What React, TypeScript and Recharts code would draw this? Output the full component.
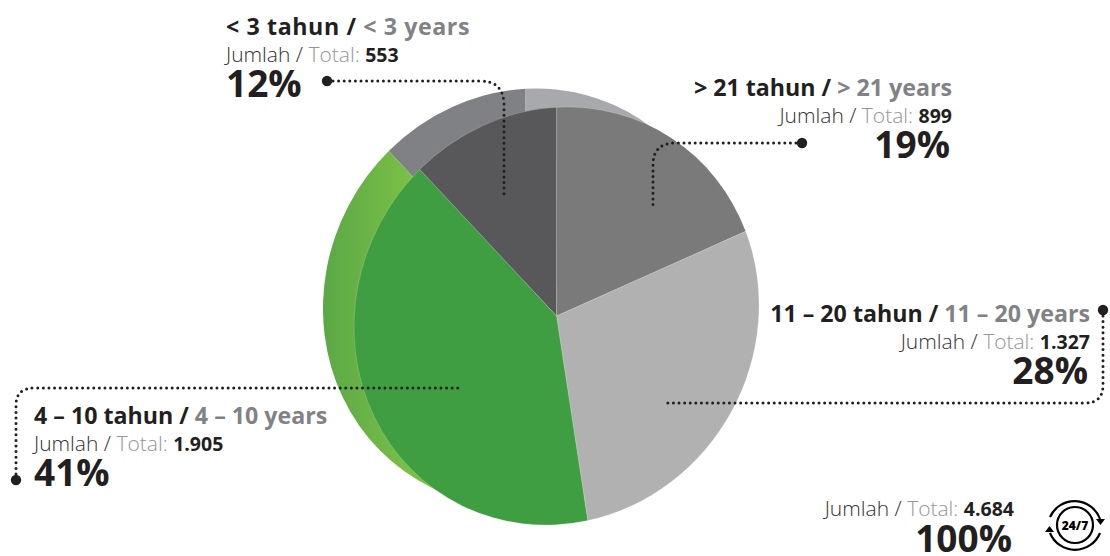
import { PieChart, Pie } from "recharts";

const categories = ["< 3", "> 21", "11 – 20", "4 – 10"];
const totals = [553, 899, 1327, 1905];
const totalLabels = ["553", "899", "1.327", "1.905"];
const percentLabels = ["12%", "19%", "28%", "41%"];
const frontColors = ["#58585a", "#7a7a7a", "#b1b1b1", "#3f9e41"];
const backColors = ["#808184", "#a7a9ac", "#d1d3d4", "url(#backGreen)"];

const grandTotal = "4.684";
const grandPercent = "100%";

const pieData = categories.map((name, i) => ({ name, value: totals[i] }));

const TILT = 60.5;
const MINOR = 199.4 / 212;

// the artwork's pie is a slightly tilted ellipse, not a true circle
function EllipseSector(props: any) {
  const { cx, cy, outerRadius, startAngle, endAngle, fill, stroke } = props;
  const a = outerRadius;
  const b = outerRadius * MINOR;
  const rad = Math.PI / 180;
  const point = (deg: number) => {
    const t = (deg - TILT) * rad;
    const c = TILT * rad;
    return [
      cx + a * Math.cos(t) * Math.cos(c) - b * Math.sin(t) * Math.sin(c),
      cy - (a * Math.cos(t) * Math.sin(c) + b * Math.sin(t) * Math.cos(c)),
    ];
  };
  const [x0, y0] = point(startAngle);
  const [x1, y1] = point(endAngle);
  const large = Math.abs(startAngle - endAngle) > 180 ? 1 : 0;
  const d = `M${cx},${cy} L${x0},${y0} A${a},${b} ${-TILT} ${large} 1 ${x1},${y1} Z`;
  return <path d={d} fill={fill} stroke={stroke} strokeWidth={0.6} strokeOpacity={0.3} />;
}

const DARK = "#231f20";
const SOFT = "#333132";
const GREY = "#808285";
const LIGHT = "#939598";
const FONT = "'Open Sans', sans-serif";

function Label({
  x,
  y,
  anchor,
  index,
  spacing = 0,
  percentShift = 0,
}: {
  x: number;
  y: number;
  anchor: "start" | "end";
  index: number;
  spacing?: number;
  percentShift?: number;
}) {
  const name = categories[index];
  return (
    <g textAnchor={anchor} fontFamily={FONT}>
      <text x={x} y={y} fontSize={23.2} fontWeight={700} fill={DARK} letterSpacing={spacing}>
        {name} tahun / <tspan fill={GREY}>{name} years</tspan>
      </text>
      <text x={x} y={y + 27} fontSize={21} fontWeight={300} fill={SOFT}>
        Jumlah / <tspan fill={LIGHT}>Total: </tspan>
        <tspan fontWeight={700} fontSize={19.5} fill={DARK}>
          {totalLabels[index]}
        </tspan>
      </text>
      <text x={x + percentShift} y={y + 62} fontSize={37} fontWeight={700} fill={DARK}>
        {percentLabels[index]}
      </text>
    </g>
  );
}

function Leader({ d, dot }: { d: string; dot: [number, number] }) {
  return (
    <g>
      <path d={d} fill="none" stroke={DARK} strokeWidth={3} strokeLinecap="round" strokeDasharray="0 5.6" />
      <circle cx={dot[0]} cy={dot[1]} r={5.2} fill={DARK} />
    </g>
  );
}

export default function App() {
  return (
    <div style={{ position: "absolute", left: 0, top: 0, width: 1110, height: 556, overflow: "hidden", background: "#fff" }}>
      <PieChart width={1110} height={556} margin={{ top: 0, right: 0, bottom: 0, left: 0 }}>
        <defs>
          <linearGradient id="backGreen" gradientUnits="userSpaceOnUse" x1={323} y1={0} x2={410} y2={0}>
            <stop offset="0%" stopColor="#5aa846" />
            <stop offset="100%" stopColor="#7abf47" />
          </linearGradient>
        </defs>
        <Pie
          data={pieData.map((d, i) => ({ ...d, fill: backColors[i] }))}
          dataKey="value"
          cx={525.5}
          cy={297.5}
          outerRadius={212}
          startAngle={134}
          endAngle={-226}
          stroke="none"
          shape={EllipseSector}
          isAnimationActive={false}
        />
        <Pie
          data={pieData.map((d, i) => ({ ...d, fill: frontColors[i] }))}
          dataKey="value"
          cx={556.5}
          cy={316}
          outerRadius={212}
          startAngle={134}
          endAngle={-226}
          stroke="#ffffff"
          shape={EllipseSector}
          isAnimationActive={false}
        />
      </PieChart>
      <svg width={1110} height={556} style={{ position: "absolute", left: 0, top: 0 }}>
        <Leader d="M333,81 H480 Q504,81 504,105 V195" dot={[327, 81]} />
        <Leader d="M796,143 H675 Q653,143 653,165 V208" dot={[802, 143]} />
        <Leader d="M1103,316 V385 Q1103,403 1085,403 H667" dot={[1103, 310]} />
        <Leader d="M16,474 V405 Q16,388 35,388 H459" dot={[16, 480]} />

        <Label x={226} y={35} anchor="start" index={0} spacing={0.6} />
        <Label x={952} y={96} anchor="end" index={1} percentShift={-2} />
        <Label x={1090} y={322} anchor="end" index={2} percentShift={-2} />
        <Label x={34} y={424} anchor="start" index={3} />

        <g textAnchor="end" fontFamily={FONT}>
          <text x={1014} y={516} fontSize={21} fontWeight={300} fill={SOFT}>
            Jumlah / <tspan fill={LIGHT}>Total: </tspan>
            <tspan fontWeight={700} fontSize={19.5} fill={DARK}>
              {grandTotal}
            </tspan>
          </text>
          <text x={1012} y={552} fontSize={37} fontWeight={700} fill={DARK}>
            {grandPercent}
          </text>
        </g>

        <g fill="none" stroke="#000" strokeWidth={2.2}>
          <circle cx={1075} cy={525} r={18} />
          <path d="M1050,517 A27,27 0 0 1 1100,519" />
          <path d="M1100,533 A27,27 0 0 1 1050,533" />
        </g>
        <path d="M1096,519 L1105,519 L1100.5,525 Z" fill="#000" />
        <path d="M1045,532 L1054,532 L1049.5,526 Z" fill="#000" />
        <text x={1075} y={529.5} textAnchor="middle" fontFamily={FONT} fontSize={12} fontWeight={800} fill="#000">
          24/7
        </text>
      </svg>
    </div>
  );
}
